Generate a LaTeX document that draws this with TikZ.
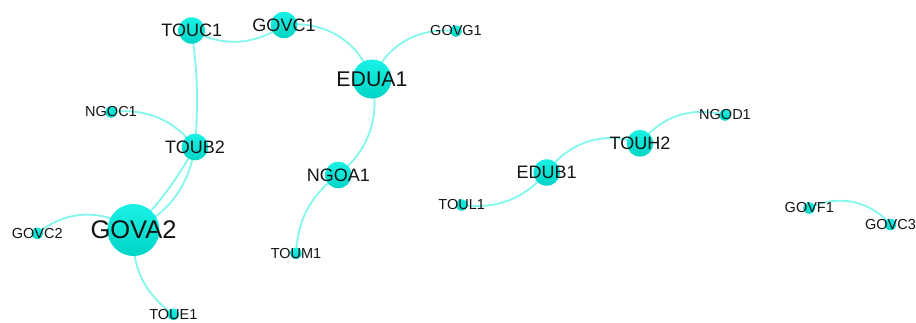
\documentclass[tikz,border=0pt]{standalone}
\usepackage{fontspec}
\setmainfont{Liberation Sans}
\pgfdeclarelayer{background}
\pgfsetlayers{background,main}
\definecolor{nodetop}{RGB}{24,242,228}
\definecolor{nodebot}{RGB}{0,212,198}
\definecolor{edgecol}{RGB}{130,247,236}
\definecolor{txt}{RGB}{20,20,20}
\tikzset{
  vtx/.style={circle, inner sep=0pt, draw=none, top color=nodetop, bottom color=nodebot},
  vsmall/.style={vtx, minimum size=11.5pt},
  vmed/.style={vtx, minimum size=26.5pt},
  vlarge/.style={vtx, minimum size=39pt},
  vhuge/.style={vtx, minimum size=52pt},
  tsmall/.style={text=txt, inner sep=0pt, font=\fontsize{14.5}{16}\selectfont},
  tmed/.style={text=txt, inner sep=0pt, font=\fontsize{18}{20}\selectfont},
  tlarge/.style={text=txt, inner sep=0pt, font=\fontsize{21.3}{24}\selectfont},
  thuge/.style={text=txt, inner sep=0pt, font=\fontsize{25.5}{28}\selectfont},
  edge/.style={draw=edgecol, line width=1.8pt}
}
\begin{document}
\begin{tikzpicture}[x=1pt,y=1pt]
\useasboundingbox (0,0) rectangle (916,-322);
\clip (0,0) rectangle (916,-322);
% nodes
\node[vmed,  label={[tmed]center:TOUC1}]   (touc1) at (191.7,-30.5) {};
\node[vmed,  label={[tmed]center:GOVC1}]   (govc1) at (284,-25) {};
\node[vlarge,label={[tlarge]center:EDUA1}] (edua1) at (372,-79) {};
\node[vsmall,label={[tsmall]center:GOVG1}] (govg1) at (456,-31) {};
\node[vsmall,label={[tsmall]center:NGOC1}] (ngoc1) at (111,-112) {};
\node[vmed,  label={[tmed]center:TOUB2}]   (toub2) at (195,-147) {};
\node[vmed,  label={[tmed]center:NGOA1}]   (ngoa1) at (338.3,-175) {};
\node[vhuge, label={[thuge]center:GOVA2}]  (gova2) at (133.5,-230) {};
\node[vsmall,label={[tsmall]center:GOVC2}] (govc2) at (37.3,-233.3) {};
\node[vsmall,label={[tsmall]center:TOUM1}] (toum1) at (296,-253.3) {};
\node[vsmall,label={[tsmall]center:TOUE1}] (toue1) at (173.3,-314.3) {};
\node[vmed,  label={[tmed]center:EDUB1}]   (edub1) at (546.7,-172.5) {};
\node[vmed,  label={[tmed]center:TOUH2}]   (touh2) at (640,-143.3) {};
\node[vsmall,label={[tsmall]center:NGOD1}] (ngod1) at (725,-115) {};
\node[vsmall,label={[tsmall]center:TOUL1}] (toul1) at (461.7,-205) {};
\node[vsmall,label={[tsmall]center:GOVF1}] (govf1) at (809.3,-208) {};
\node[vsmall,label={[tsmall]center:GOVC3}] (govc3) at (890.5,-224.5) {};
% edges
\begin{pgfonlayer}{background}
\draw[edge] (touc1.center) to[bend right=31] (govc1.center);
\draw[edge] (govc1.center) to[bend left=39] (edua1.center);
\draw[edge] (edua1.center) to[bend left=36] (govg1.center);
\draw[edge] (touc1.center) to[bend left=6] (toub2.center);
\draw[edge] (ngoc1.center) to[bend left=29] (toub2.center);
\draw[edge] (gova2.center) to[bend right=27] (toub2.center);
\draw[edge] (gova2.center) to[bend right=7] (toub2.center);
\draw[edge] (govc2.center) to[bend left=37] (gova2.center);
\draw[edge] (gova2.center) to[bend right=29] (toue1.center);
\draw[edge] (edua1.center) to[bend left=31] (ngoa1.center);
\draw[edge] (ngoa1.center) to[bend right=25] (toum1.center);
\draw[edge] (edub1.center) to[bend left=37] (touh2.center);
\draw[edge] (touh2.center) to[bend left=33] (ngod1.center);
\draw[edge] (toul1.center) to[bend right=28] (edub1.center);
\draw[edge] (govf1.center) to[bend left=37] (govc3.center);
\end{pgfonlayer}
\end{tikzpicture}
\end{document}
